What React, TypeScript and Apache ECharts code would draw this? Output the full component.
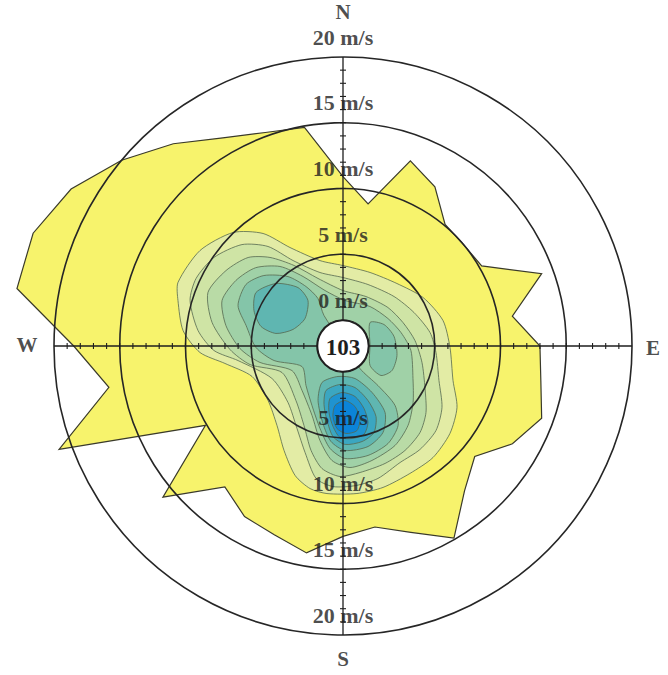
import React, { useEffect, useRef } from 'react';
import * as echarts from 'echarts';

type Pt = [number, number]; // [speed m/s, direction deg from N clockwise]

// Outer envelope of observations (speed per 10° direction)
const outlineDir = [0, 10, 20, 30, 40, 50, 60, 70, 80, 90, 100, 110, 120, 130, 140, 150, 160, 170, 180, 190, 200, 210, 220, 230, 240, 250, 260, 270, 280, 290, 300, 310, 320, 330, 340, 350];
const outlineSpeed = [10.9, 9.0, 13.0, 12.0, 10.1, 10.0, 10.2, 14.1, 11.1, 13.0, 13.3, 14.1, 12.9, 11.1, 12.4, 14.9, 13.1, 12.0, 12.5, 14.0, 13.3, 13.0, 12.0, 15.9, 10.1, 21.0, 16.1, 18.5, 23.2, 23.1, 21.9, 20.0, 18.1, 16.3, 15.3, 14.9];

// Filled contour levels (speed, direction)
const level1: Pt[] = [[4.14, 0], [3.98, 20.2], [4.3, 40.8], [5.14, 58.8], [5.87, 75.7], [6.16, 90.8], [6.79, 107.4], [7.87, 118.3], [8.53, 129.3], [8.92, 141.1], [8.97, 152.3], [9.2, 164.2], [9.29, 174.6], [9.31, 186.2], [9.15, 193.0], [8.52, 200.3], [7.15, 209.4], [5.88, 219.7], [5.07, 234.0], [5.32, 251.5], [7.1, 261.6], [8.91, 267.4], [10.24, 275.5], [11.04, 285.4], [11.47, 291.1], [11.1, 303.7], [10.04, 315.9], [8.52, 324.6], [6.53, 331.7], [4.75, 344.9]];
const level2: Pt[] = [[3.23, 0], [3.07, 22.1], [3.43, 45.9], [3.99, 64.7], [4.72, 81.2], [5.11, 94.0], [5.78, 109.8], [6.88, 121.8], [7.58, 132.3], [7.83, 143.4], [7.89, 153.9], [8.44, 165.2], [8.68, 174.7], [8.74, 184.1], [8.3, 191.5], [6.62, 199.6], [5.21, 209.1], [4.02, 224.2], [3.96, 245.4], [6.08, 262.1], [7.84, 268.0], [9.11, 276.1], [10.16, 286.6], [10.32, 294.7], [9.92, 304.5], [8.91, 315.1], [7.5, 323.0], [5.55, 329.7], [3.88, 342.6]];
const level3: Pt[] = [[2.24, 0], [2.17, 24.9], [2.52, 49.4], [2.92, 68.6], [3.51, 85.6], [4.16, 101.8], [5.05, 117.4], [6.11, 128.7], [6.83, 138.3], [7.26, 149.3], [7.51, 160.3], [7.73, 172.3], [7.95, 181.3], [7.48, 189.7], [6.33, 197.0], [4.76, 206.1], [3.5, 220.8], [3.08, 246.5], [5.23, 258.7], [6.62, 268.2], [8.14, 280.2], [9.07, 291.6], [8.61, 302.8], [7.89, 313.0], [6.75, 320.5], [5.19, 328.7], [3.5, 339.7]];
const level4: Pt[] = [[1.49, 2.5], [1.66, 34.4], [2.03, 58.6], [2.55, 76.9], [3.2, 93.8], [3.89, 114.9], [4.87, 128.9], [5.83, 140.7], [6.56, 152.4], [7.0, 165.8], [7.28, 176.7], [6.77, 185.5], [5.42, 193.7], [3.81, 204.0], [2.62, 222.7], [2.33, 244.3], [4.46, 258.8], [5.86, 268.6], [7.06, 279.9], [7.85, 290.6], [7.57, 301.5], [6.94, 311.9], [5.74, 321.6], [4.12, 330.1], [2.46, 342.0]];
const level5: Pt[] = [[6.58, 291.1], [6.76, 302.4], [6.08, 311.7], [4.76, 321.6], [3.35, 328.1], [2.11, 332.2], [0.76, 328.1], [0.17, 143.0], [2.04, 138.5], [4.03, 138.8], [5.38, 145.3], [6.19, 155.2], [6.56, 167.1], [6.58, 179.0], [5.88, 187.2], [4.53, 195.6], [3.13, 207.5], [2.14, 223.1], [1.51, 243.4], [3.38, 258.1], [4.64, 269.0], [5.56, 282.0]];
const level5East: Pt[] = [[0.75, 49.0], [1.54, 62.3], [1.97, 79.4], [2.19, 100.0], [2.19, 116.6], [1.68, 127.8], [0.56, 125.8], [0.08, 88.9]];
const level6NW: Pt[] = [[5.79, 301.6], [4.99, 313.0], [3.63, 322.4], [2.39, 322.4], [1.59, 305.9], [2.03, 288.3], [3.21, 280.6], [4.43, 283.4], [5.31, 291.7]];
const level6S: Pt[] = [[1.22, 209.9], [0.37, 189.3], [0.66, 159.7], [2.19, 148.0], [4.01, 147.7], [5.27, 155.2], [5.9, 166.0], [5.97, 178.9], [5.34, 187.2], [4.11, 194.5], [2.58, 204.6]];
const level7: Pt[] = [[1.64, 200.9], [0.96, 184.5], [1.31, 163.9], [2.58, 155.4], [3.94, 154.9], [5.01, 160.3], [5.43, 168.7], [5.51, 178.8], [4.95, 186.3], [3.82, 192.1], [2.7, 198.0]];
const level8: Pt[] = [[2.14, 193.9], [1.56, 181.2], [1.97, 166.6], [3.04, 161.4], [4.14, 161.9], [4.94, 166.7], [5.09, 174.4], [4.98, 181.9], [4.19, 187.1], [3.19, 191.9]];
const level9: Pt[] = [[2.59, 187.7], [2.17, 177.9], [2.71, 168.8], [3.69, 166.8], [4.54, 170.6], [4.68, 178.0], [4.31, 184.2], [3.44, 188.1]];

const levelColors = ['#e3eca5', '#cfe4a5', '#b9dba6', '#a0d1a7', '#84c5a9', '#5fb6b1', '#3ba6c1', '#1f93d0', '#0b84d9'];

const speedTicks = [1, 2, 3, 4, 5, 6, 7, 8, 9, 10, 11, 12, 13, 14, 15, 16, 17, 18, 19];
const axisDirs = [0, 90, 180, 270];
const northLabelValues = [0, 5, 10, 15, 20];
const southLabelValues = [5, 10, 15, 20];
const compassNames = ['N', 'E', 'S', 'W'];
const compassDirs = [0, 90, 180, 270];
const compassOffsets: Pt[] = [[0, -45], [21, 2], [0, 24], [-27, -1]];
const totalCount = 103;

const SERIF = '"Liberation Serif", "Times New Roman", serif';
const INK = '#1e1e1e';

function polygonSeries(id: string, pts: Pt[], fill: string, z: number, stroke: string, lineWidth: number, smooth: number) {
  return {
    type: 'custom',
    id,
    coordinateSystem: 'polar',
    silent: true,
    z,
    data: [[0, 0]],
    renderItem: (_params: any, api: any) => ({
      type: 'polygon',
      shape: { points: pts.map((p) => api.coord([p[0], p[1]])), smooth },
      style: { fill, stroke, lineWidth },
    }),
  };
}

export default function App() {
  const ref = useRef<HTMLDivElement>(null);

  useEffect(() => {
    if (!ref.current) return;
    const chart = echarts.init(ref.current, null, { renderer: 'svg' });

    const outlinePts: Pt[] = outlineDir.map((d, i) => [outlineSpeed[i], d]);
    const contourStroke = '#55684f';
    const levels: [string, Pt[], number][] = [
      ['l1', level1, 0],
      ['l2', level2, 1],
      ['l3', level3, 2],
      ['l4', level4, 3],
      ['l5', level5, 4],
      ['l5e', level5East, 4],
      ['l6nw', level6NW, 5],
      ['l6s', level6S, 5],
      ['l7', level7, 6],
      ['l8', level8, 7],
      ['l9', level9, 8],
    ];

    const series: any[] = [];
    series.push(polygonSeries('outline', outlinePts, '#f7f36c', 1, '#3a3a2a', 1.2, 0));
    levels.forEach(([id, pts, li]) => {
      series.push(polygonSeries(id, pts, levelColors[li], 1, contourStroke, 0.8, 0.25));
    });

    series.push({
      type: 'custom',
      id: 'axes',
      coordinateSystem: 'polar',
      silent: true,
      z: 4,
      data: [[0, 0]],
      renderItem: (_p: any, api: any) => {
        const children: any[] = [];
        axisDirs.forEach((d) => {
          const a = api.coord([0, d]);
          const b = api.coord([20, d]);
          const len = Math.hypot(b[0] - a[0], b[1] - a[1]) || 1;
          const nx = -(b[1] - a[1]) / len;
          const ny = (b[0] - a[0]) / len;
          children.push({
            type: 'line',
            shape: { x1: a[0], y1: a[1], x2: b[0], y2: b[1] },
            style: { stroke: INK, lineWidth: 1.3 },
          });
          speedTicks.forEach((v) => {
            const p = api.coord([v, d]);
            children.push({
              type: 'line',
              shape: { x1: p[0] - nx * 3, y1: p[1] - ny * 3, x2: p[0] + nx * 3, y2: p[1] + ny * 3 },
              style: { stroke: INK, lineWidth: 1.1 },
            });
          });
        });
        return { type: 'group', children };
      },
    });

    series.push({
      type: 'custom',
      id: 'hole',
      coordinateSystem: 'polar',
      silent: true,
      z: 5,
      data: [[0, 0]],
      renderItem: (_p: any, api: any) => {
        const top = api.coord([0, 0]);
        const bottom = api.coord([0, 180]);
        const cx = (top[0] + bottom[0]) / 2;
        const cy = (top[1] + bottom[1]) / 2;
        const r = Math.hypot(bottom[0] - top[0], bottom[1] - top[1]) / 2;
        return {
          type: 'group',
          children: [
            { type: 'circle', shape: { cx, cy, r: r - 0.5 }, style: { fill: '#ffffff', stroke: INK, lineWidth: 1.6 } },
            {
              type: 'text',
              x: cx,
              y: cy + 1,
              style: { text: String(totalCount), fill: INK, font: `bold 23px ${SERIF}`, align: 'center', verticalAlign: 'middle', textAlign: 'center', textVerticalAlign: 'middle' },
            },
          ],
        };
      },
    });

    const speedLabelData = [
      ...northLabelValues.map((v) => ({ value: [v, 0], name: `${v} m/s` })),
      ...southLabelValues.map((v) => ({ value: [v, 180], name: `${v} m/s` })),
    ];
    series.push({
      type: 'scatter',
      id: 'speedLabels',
      coordinateSystem: 'polar',
      silent: true,
      z: 6,
      symbolSize: 1,
      itemStyle: { color: 'rgba(0,0,0,0)' },
      label: {
        show: true,
        position: 'inside',
        offset: [0, -20],
        formatter: '{b}',
        color: INK,
        fontFamily: SERIF,
        fontWeight: 'bold',
        fontSize: 22,
        lineHeight: 20,
      },
      data: speedLabelData,
    });

    series.push({
      type: 'scatter',
      id: 'compass',
      coordinateSystem: 'polar',
      silent: true,
      z: 6,
      symbolSize: 1,
      itemStyle: { color: 'rgba(0,0,0,0)' },
      label: {
        show: true,
        position: 'inside',
        formatter: '{b}',
        color: INK,
        fontFamily: SERIF,
        fontWeight: 'bold',
        fontSize: 21,
        lineHeight: 17,
      },
      data: compassNames.map((n, i) => ({ value: [20, compassDirs[i]], name: n, label: { offset: compassOffsets[i] } })),
    });

    chart.setOption({
      animation: false,
      backgroundColor: '#ffffff',
      polar: { center: [343, 346], radius: [26, 289] },
      angleAxis: {
        type: 'value',
        min: 0,
        max: 360,
        startAngle: 90,
        clockwise: true,
        axisLine: { show: false },
        axisTick: { show: false },
        axisLabel: { show: false },
        splitLine: { show: false },
      },
      radiusAxis: {
        type: 'value',
        min: 0,
        max: 20,
        interval: 5,
        z: 3,
        axisLine: { show: false },
        axisTick: { show: false },
        axisLabel: { show: false },
        splitLine: { show: true, lineStyle: { color: '#262626', width: 1.6 } },
      },
      series,
    });

    return () => chart.dispose();
  }, []);

  return <div ref={ref} style={{ position: 'absolute', left: 0, top: 0, width: 668, height: 675 }} />;
}
